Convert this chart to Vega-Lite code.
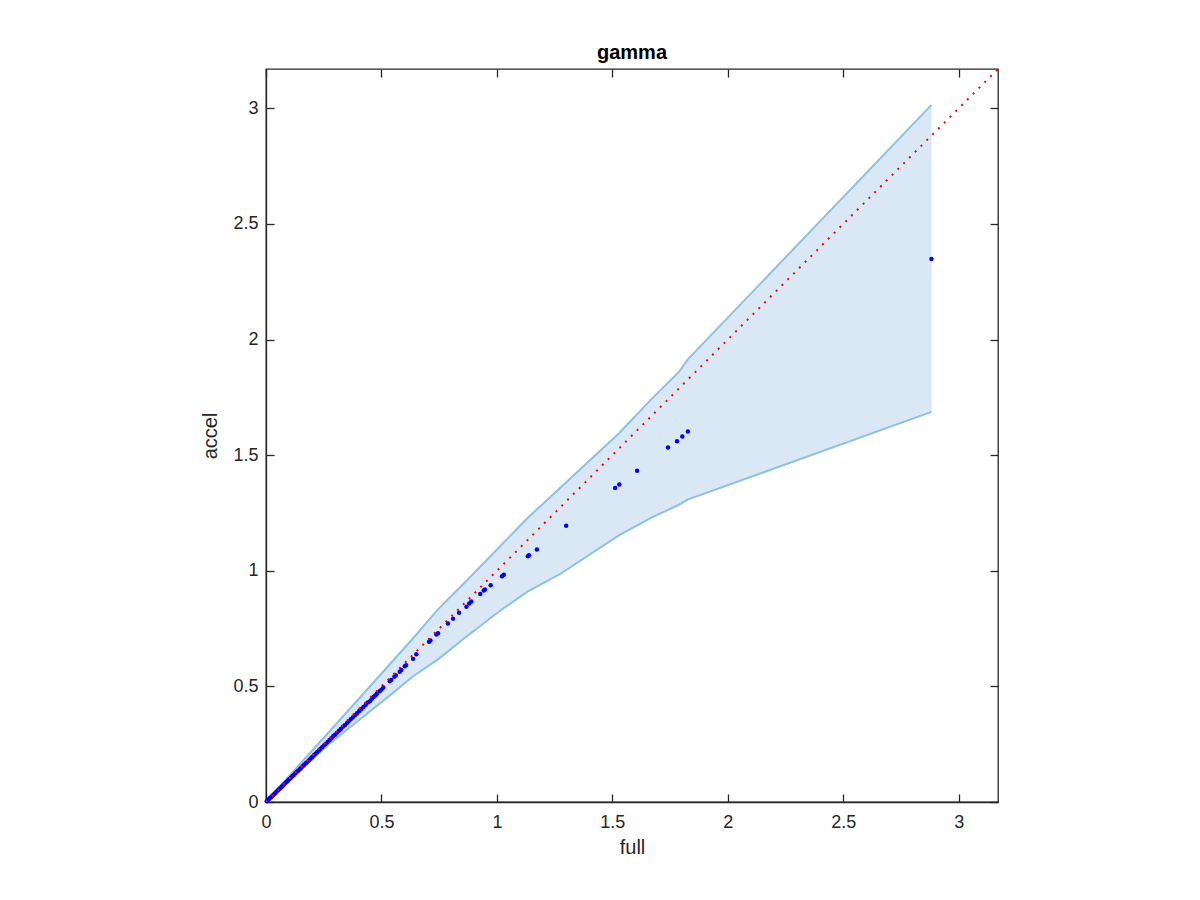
{
  "$schema": "https://vega.github.io/schema/vega-lite/v6.json",
  "autosize": {"type": "none"},
  "padding": {"left": 266, "top": 69, "right": 202, "bottom": 98},
  "width": 732,
  "height": 733,
  "background": "#ffffff",
  "title": {"text": "gamma", "fontSize": 20, "fontWeight": "bold", "font": "Liberation Sans", "color": "#000000", "offset": 3, "anchor": "middle"},
  "config": {
    "view": {"stroke": "#262626", "strokeWidth": 1.3},
    "axis": {
      "grid": false,
      "domainColor": "#262626",
      "domainWidth": 1.3,
      "tickColor": "#262626",
      "tickWidth": 1.3,
      "tickSize": -8
    }
  },
  "resolve": {"axis": {"x": "independent", "y": "independent"}},
  "datasets": {
    "band": [
      {"full": 0, "lower": 0, "upper": 0},
      {"full": 0.118, "lower": 0.108, "upper": 0.132},
      {"full": 0.262, "lower": 0.241, "upper": 0.291},
      {"full": 0.406, "lower": 0.357, "upper": 0.451},
      {"full": 0.55, "lower": 0.472, "upper": 0.611},
      {"full": 0.637, "lower": 0.544, "upper": 0.708},
      {"full": 0.745, "lower": 0.617, "upper": 0.833},
      {"full": 0.86, "lower": 0.709, "upper": 0.948},
      {"full": 1.012, "lower": 0.826, "upper": 1.104},
      {"full": 1.134, "lower": 0.911, "upper": 1.229},
      {"full": 1.271, "lower": 0.984, "upper": 1.356},
      {"full": 1.53, "lower": 1.154, "upper": 1.596},
      {"full": 1.667, "lower": 1.229, "upper": 1.74},
      {"full": 1.79, "lower": 1.286, "upper": 1.862},
      {"full": 1.826, "lower": 1.308, "upper": 1.913},
      {"full": 2.882, "lower": 1.687, "upper": 3.015}
    ],
    "diag": [
      {"full": 0, "accel": 0},
      {"full": 3.17, "accel": 3.17}
    ],
    "points": [
      {"full": 0.003, "accel": 0.003}, {"full": 0.008, "accel": 0.008}, {"full": 0.012, "accel": 0.012},
      {"full": 0.017, "accel": 0.017}, {"full": 0.022, "accel": 0.021}, {"full": 0.027, "accel": 0.026},
      {"full": 0.031, "accel": 0.03}, {"full": 0.036, "accel": 0.035}, {"full": 0.041, "accel": 0.04},
      {"full": 0.046, "accel": 0.045}, {"full": 0.052, "accel": 0.051}, {"full": 0.057, "accel": 0.056},
      {"full": 0.062, "accel": 0.06}, {"full": 0.068, "accel": 0.066}, {"full": 0.073, "accel": 0.071},
      {"full": 0.079, "accel": 0.077}, {"full": 0.085, "accel": 0.083}, {"full": 0.09, "accel": 0.088},
      {"full": 0.096, "accel": 0.094}, {"full": 0.102, "accel": 0.099}, {"full": 0.108, "accel": 0.105},
      {"full": 0.114, "accel": 0.111}, {"full": 0.12, "accel": 0.117}, {"full": 0.127, "accel": 0.124},
      {"full": 0.133, "accel": 0.13}, {"full": 0.139, "accel": 0.135}, {"full": 0.146, "accel": 0.142},
      {"full": 0.152, "accel": 0.148}, {"full": 0.159, "accel": 0.155}, {"full": 0.165, "accel": 0.161},
      {"full": 0.172, "accel": 0.168}, {"full": 0.179, "accel": 0.174}, {"full": 0.186, "accel": 0.181},
      {"full": 0.193, "accel": 0.188}, {"full": 0.2, "accel": 0.195}, {"full": 0.207, "accel": 0.202},
      {"full": 0.214, "accel": 0.209}, {"full": 0.222, "accel": 0.216}, {"full": 0.229, "accel": 0.223},
      {"full": 0.236, "accel": 0.23}, {"full": 0.244, "accel": 0.238}, {"full": 0.252, "accel": 0.246},
      {"full": 0.259, "accel": 0.252}, {"full": 0.267, "accel": 0.26}, {"full": 0.275, "accel": 0.268},
      {"full": 0.283, "accel": 0.276}, {"full": 0.291, "accel": 0.284}, {"full": 0.299, "accel": 0.291},
      {"full": 0.307, "accel": 0.299}, {"full": 0.316, "accel": 0.308}, {"full": 0.324, "accel": 0.316},
      {"full": 0.333, "accel": 0.325}, {"full": 0.341, "accel": 0.332}, {"full": 0.35, "accel": 0.341},
      {"full": 0.358, "accel": 0.349}, {"full": 0.367, "accel": 0.358}, {"full": 0.376, "accel": 0.366},
      {"full": 0.385, "accel": 0.375}, {"full": 0.394, "accel": 0.384}, {"full": 0.404, "accel": 0.394},
      {"full": 0.413, "accel": 0.402}, {"full": 0.422, "accel": 0.411}, {"full": 0.432, "accel": 0.421},
      {"full": 0.441, "accel": 0.43}, {"full": 0.45, "accel": 0.436}, {"full": 0.458, "accel": 0.446},
      {"full": 0.466, "accel": 0.454}, {"full": 0.473, "accel": 0.461}, {"full": 0.48, "accel": 0.468},
      {"full": 0.492, "accel": 0.479}, {"full": 0.5, "accel": 0.486}, {"full": 0.508, "accel": 0.495},
      {"full": 0.536, "accel": 0.522}, {"full": 0.542, "accel": 0.528}, {"full": 0.556, "accel": 0.542},
      {"full": 0.562, "accel": 0.548}, {"full": 0.579, "accel": 0.563}, {"full": 0.586, "accel": 0.571},
      {"full": 0.601, "accel": 0.587}, {"full": 0.607, "accel": 0.592}, {"full": 0.637, "accel": 0.619},
      {"full": 0.651, "accel": 0.639}, {"full": 0.706, "accel": 0.693}, {"full": 0.712, "accel": 0.698},
      {"full": 0.738, "accel": 0.724}, {"full": 0.745, "accel": 0.73}, {"full": 0.788, "accel": 0.772},
      {"full": 0.81, "accel": 0.793}, {"full": 0.836, "accel": 0.818}, {"full": 0.868, "accel": 0.844},
      {"full": 0.88, "accel": 0.858}, {"full": 0.889, "accel": 0.867}, {"full": 0.928, "accel": 0.9},
      {"full": 0.943, "accel": 0.915}, {"full": 0.948, "accel": 0.919}, {"full": 0.973, "accel": 0.937},
      {"full": 1.022, "accel": 0.976}, {"full": 1.03, "accel": 0.983}, {"full": 1.134, "accel": 1.063},
      {"full": 1.139, "accel": 1.067}, {"full": 1.173, "accel": 1.092}, {"full": 1.3, "accel": 1.195},
      {"full": 1.512, "accel": 1.358}, {"full": 1.53, "accel": 1.373}, {"full": 1.607, "accel": 1.433},
      {"full": 1.741, "accel": 1.533}, {"full": 1.78, "accel": 1.56}, {"full": 1.803, "accel": 1.581},
      {"full": 1.827, "accel": 1.602}, {"full": 2.882, "accel": 2.348}
    ]
  },
  "layer": [
    {
      "data": {"name": "band"},
      "mark": {"type": "area", "color": "#d9e8f4", "opacity": 1},
      "encoding": {
        "x": {"field": "full", "type": "quantitative", "scale": {"domain": [0, 3.17], "nice": false, "zero": false},
              "axis": {"orient": "bottom", "title": "full", "values": [0, 0.5, 1, 1.5, 2, 2.5, 3], "format": "~g",
                       "labelFont": "Liberation Sans", "labelFontSize": 18, "labelColor": "#262626", "labelPadding": 19, "labelFlush": false,
                       "titleFont": "Liberation Sans", "titleFontSize": 20, "titleFontWeight": "normal", "titleColor": "#262626", "titlePadding": 6}},
        "y": {"field": "lower", "type": "quantitative", "scale": {"domain": [0, 3.17], "nice": false, "zero": false},
              "axis": {"orient": "left", "title": "accel", "values": [0, 0.5, 1, 1.5, 2, 2.5, 3], "format": "~g",
                       "labelFont": "Liberation Sans", "labelFontSize": 18, "labelColor": "#262626", "labelPadding": 16, "labelFlush": false,
                       "titleFont": "Liberation Sans", "titleFontSize": 20, "titleFontWeight": "normal", "titleColor": "#262626", "titlePadding": 12}},
        "y2": {"field": "upper"}
      }
    },
    {
      "data": {"name": "band"},
      "mark": {"type": "line", "color": "#8ec1e1", "strokeWidth": 2},
      "encoding": {
        "x": {"field": "full", "type": "quantitative", "axis": null},
        "y": {"field": "upper", "type": "quantitative", "axis": null}
      }
    },
    {
      "data": {"name": "band"},
      "mark": {"type": "line", "color": "#8ec1e1", "strokeWidth": 2},
      "encoding": {
        "x": {"field": "full", "type": "quantitative", "axis": null},
        "y": {"field": "lower", "type": "quantitative", "axis": null}
      }
    },
    {
      "data": {"name": "points"},
      "mark": {"type": "circle", "color": "#0000ff", "size": 20, "opacity": 1},
      "encoding": {
        "x": {"field": "full", "type": "quantitative", "axis": null},
        "y": {"field": "accel", "type": "quantitative", "axis": null}
      }
    },
    {
      "data": {"name": "diag"},
      "mark": {"type": "line", "color": "#ff0000", "strokeWidth": 2, "strokeDash": [2, 6.2], "clip": true},
      "encoding": {
        "x": {"field": "full", "type": "quantitative", "axis": null},
        "y": {"field": "accel", "type": "quantitative", "axis": null}
      }
    },
    {
      "data": {"name": "diag"},
      "mark": {"type": "point", "opacity": 0},
      "encoding": {
        "x": {"field": "full", "type": "quantitative",
              "axis": {"orient": "top", "labels": false, "title": null, "domain": false, "values": [0, 0.5, 1, 1.5, 2, 2.5, 3]}},
        "y": {"field": "accel", "type": "quantitative",
              "axis": {"orient": "right", "labels": false, "title": null, "domain": false, "values": [0, 0.5, 1, 1.5, 2, 2.5, 3]}}
      }
    }
  ]
}
